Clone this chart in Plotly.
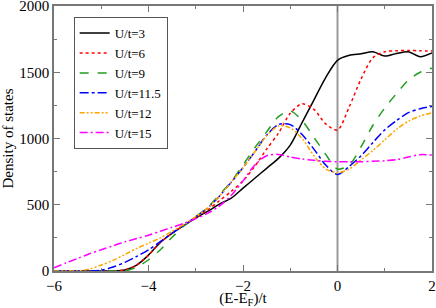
import plotly.graph_objects as go

energy = [-6, -5.75, -5.5, -5.25, -5, -4.75, -4.5, -4.25, -4, -3.75, -3.5, -3.25, -3,
          -2.75, -2.5, -2.25, -2, -1.75, -1.5, -1.25, -1, -0.75, -0.5, -0.25, 0,
          0.25, 0.5, 0.75, 1, 1.25, 1.5, 1.75, 2]

dos_u3 = [0, 0, 0, 0, 0, 0, 8, 45, 120, 215, 285, 345, 400,
          450, 505, 550, 625, 700, 775, 850, 950, 1120, 1290, 1460, 1590,
          1628, 1640, 1655, 1622, 1642, 1655, 1617, 1645]
dos_u6 = [0, 0, 0, 0, 0, 0, 8, 45, 120, 215, 285, 345, 405,
          460, 530, 600, 680, 790, 920, 1040, 1190, 1262, 1220, 1110, 1064,
          1240, 1450, 1610, 1655, 1662, 1665, 1662, 1660]
dos_u9 = [0, 0, 0, 0, 0, 0, 0, 30, 85, 160, 255, 340, 410,
          480, 575, 675, 800, 930, 1050, 1165, 1208, 1135, 1010, 880, 770,
          800, 938, 1100, 1230, 1340, 1440, 1500, 1530]
dos_u115 = [0, 0, 0, 0, 5, 30, 65, 110, 160, 222, 285, 345, 410,
            475, 565, 670, 780, 900, 1025, 1105, 1105, 1030, 920, 800, 728,
            790, 870, 970, 1065, 1135, 1195, 1225, 1242]
dos_u12 = [0, 0, 0, 15, 45, 80, 125, 170, 210, 250, 300, 350, 410,
           475, 565, 670, 780, 900, 1020, 1095, 1080, 1000, 870, 770, 742,
           770, 840, 910, 990, 1070, 1130, 1170, 1195]
dos_u15 = [25, 60, 95, 130, 160, 190, 220, 245, 270, 300, 330, 360, 395,
           435, 490, 570, 680, 800, 870, 880, 860, 845, 835, 828, 825,
           825, 825, 828, 832, 840, 860, 878, 875]

labels = ["U/t=3", "U/t=6", "U/t=9", "U/t=11.5", "U/t=12", "U/t=15"]
series = [dos_u3, dos_u6, dos_u9, dos_u115, dos_u12, dos_u15]
colors = ["#000000", "#ff0000", "#1f9e1f", "#0000ff", "#ffa500", "#ff00ff"]
dashes = ["solid", "dot", "dash", "dashdot", "5px,2px,2px,2px,2px,2px", "8px,3px,2px,3px"]

fig = go.Figure()
for lab, ys, c, d in zip(labels, series, colors, dashes):
    fig.add_trace(go.Scatter(x=energy, y=ys, mode="lines", name=lab,
                             line=dict(color=c, dash=d, width=1.5, shape="spline", smoothing=0.8)))

fig.add_shape(type="line", x0=0, x1=0, y0=0, y1=1, xref="x", yref="paper",
              line=dict(color="#999999", width=2), layer="below")

font = dict(family="Liberation Serif", size=15, color="black")
axis_common = dict(showline=True, mirror="allticks", linecolor="#777777", linewidth=1.5,
                   ticks="inside", ticklen=6, tickcolor="#777777", tickwidth=1,
                   showgrid=False, zeroline=False, tickfont=font,
                   automargin=False, ticklabeloverflow="allow")

fig.update_layout(
    width=436, height=308,
    margin=dict(l=54, r=4, t=6, b=37),
    paper_bgcolor="white", plot_bgcolor="white",
    font=font,
    xaxis=dict(range=[-6, 2], dtick=2, tick0=-6,
               minor=dict(dtick=1, ticks="inside", ticklen=3, tickcolor="#777777"),
               title=dict(text="(E-E<sub>F</sub>)/t", font=font, standoff=0),
               **axis_common),
    yaxis=dict(range=[0, 2000], dtick=500,
               minor=dict(dtick=250, ticks="inside", ticklen=3, tickcolor="#777777"),
               title=dict(text="Density of states", font=font, standoff=4),
               **axis_common),
    legend=dict(x=0.052, y=0.958, xanchor="left", yanchor="top",
                bgcolor="white", bordercolor="#555555", borderwidth=1,
                font=dict(family="Liberation Serif", size=13, color="black"),
                tracegroupgap=0, itemwidth=30),
    showlegend=True,
)

fig.write_html("out.html",
               config={"displayModeBar": False},
               post_script="document.body.style.margin='0';document.body.style.padding='0';")
